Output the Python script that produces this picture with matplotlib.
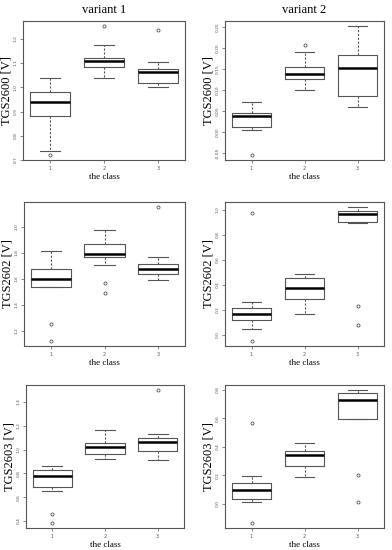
import matplotlib
matplotlib.use("Agg")
import matplotlib.pyplot as plt

# box statistics: [whislo, q1, med, q3, whishi]
classes = ["1", "2", "3"]
column_titles = ["variant 1", "variant 2"]
sensors = ["TGS2600 [V]", "TGS2602 [V]", "TGS2603 [V]"]

# variant 1
tgs2600_v1 = [[0.738, 0.880, 0.938, 0.982, 1.037],
              [1.038, 1.085, 1.107, 1.122, 1.173],
              [1.000, 1.016, 1.062, 1.075, 1.105]]
tgs2600_v1_out = [[0.722], [1.252], [1.235]]
tgs2602_v1 = [[1.535, 1.540, 1.597, 1.676, 1.813],
              [1.706, 1.770, 1.790, 1.866, 1.975],
              [1.594, 1.640, 1.676, 1.711, 1.764]]
tgs2602_v1_out = [[1.249, 1.124], [1.571, 1.493], [2.150]]
tgs2603_v1 = [[0.650, 0.686, 0.778, 0.831, 0.861],
              [0.917, 0.964, 1.025, 1.058, 1.161],
              [0.911, 0.986, 1.064, 1.100, 1.128]]
tgs2603_v1_out = [[0.458, 0.386], [], [1.497]]

# variant 2
tgs2600_v2 = [[0.0055, 0.012, 0.039, 0.045, 0.071],
              [0.101, 0.126, 0.140, 0.156, 0.192],
              [0.061, 0.087, 0.152, 0.183, 0.253]]
tgs2600_v2_out = [[-0.054], [0.208], []]
tgs2602_v2 = [[0.045, 0.117, 0.165, 0.216, 0.261],
              [0.165, 0.285, 0.373, 0.456, 0.488],
              [0.895, 0.899, 0.963, 0.989, 1.019]]
tgs2602_v2_out = [[0.971, -0.045], [], [0.235, 0.077]]
tgs2603_v2 = [[0.014, 0.033, 0.094, 0.145, 0.198],
              [0.189, 0.269, 0.342, 0.372, 0.426],
              [0.597, 0.599, 0.732, 0.779, 0.798]]
tgs2603_v2_out = [[0.571, -0.133], [], [0.199, 0.016]]

panels = [
    (tgs2600_v1, tgs2600_v1_out, [0.7, 0.8, 0.9, 1.0, 1.1, 1.2], "%.1f"),
    (tgs2600_v2, tgs2600_v2_out, [-0.05, 0.0, 0.05, 0.10, 0.15, 0.20, 0.25], "%.2f"),
    (tgs2602_v1, tgs2602_v1_out, [1.2, 1.4, 1.6, 1.8, 2.0], "%.1f"),
    (tgs2602_v2, tgs2602_v2_out, [0.0, 0.2, 0.4, 0.6, 0.8, 1.0], "%.1f"),
    (tgs2603_v1, tgs2603_v1_out, [0.4, 0.6, 0.8, 1.0, 1.2, 1.4], "%.1f"),
    (tgs2603_v2, tgs2603_v2_out, [0.0, 0.2, 0.4, 0.6, 0.8], "%.1f"),
]

W, H = 392, 550
# axes frames in pixels: (left, top, right, bottom)
frames = [
    (23, 21, 185, 160), (225, 21, 384, 160),
    (24, 202, 185, 346), (225, 202, 384, 346),
    (26, 385, 184, 528), (225, 385, 384, 528),
]

fig = plt.figure(figsize=(W / 100, H / 100), dpi=100)
fig.patch.set_facecolor("white")
serif = ["Liberation Serif", "DejaVu Serif"]
gray = "#555555"

for i, (stats, outs, yticks, fmt) in enumerate(panels):
    l, t, r, b = frames[i]
    ax = fig.add_axes([l / W, 1 - b / H, (r - l) / W, (b - t) / H])
    bxp_stats = []
    for k, s in enumerate(stats):
        bxp_stats.append(dict(whislo=s[0], q1=s[1], med=s[2], q3=s[3],
                              whishi=s[4], fliers=outs[k], label=classes[k]))
    ax.bxp(bxp_stats, positions=[1, 2, 3], widths=0.75, showfliers=True,
           boxprops=dict(color=gray, linewidth=0.8),
           medianprops=dict(color="black", linewidth=1.8),
           whiskerprops=dict(color=gray, linewidth=0.8, linestyle=(0, (2, 1.5))),
           capprops=dict(color=gray, linewidth=0.8),
           flierprops=dict(marker="o", markersize=2.2, markerfacecolor="none",
                           markeredgecolor=gray, markeredgewidth=0.6))
    allv = [v for s in stats for v in s] + [v for o in outs for v in o]
    lo, hi = min(allv), max(allv)
    pad = 0.04 * (hi - lo)
    ax.set_ylim(lo - pad, hi + pad)
    ax.set_xlim(0.5, 3.5)
    ax.set_yticks(yticks)
    ax.set_yticklabels([fmt % v for v in yticks], rotation=90, va="center",
                       fontsize=3.2, color=gray)
    ax.set_xticks([1, 2, 3])
    ax.set_xticklabels(classes, fontsize=3.5, color=gray)
    ax.tick_params(length=2, width=0.5, colors=gray, pad=2)
    for sp in ax.spines.values():
        sp.set_color(gray)
        sp.set_linewidth(0.8)
    ax.set_xlabel("the class", family=serif, fontsize=6.5, labelpad=2)
    ax.set_ylabel(sensors[i // 2], family=serif, fontsize=9, labelpad=1)
    if i < 2:
        ax.set_title(column_titles[i], family=serif, fontsize=9, pad=6)

fig.savefig("out.png", dpi=100, facecolor="white")
